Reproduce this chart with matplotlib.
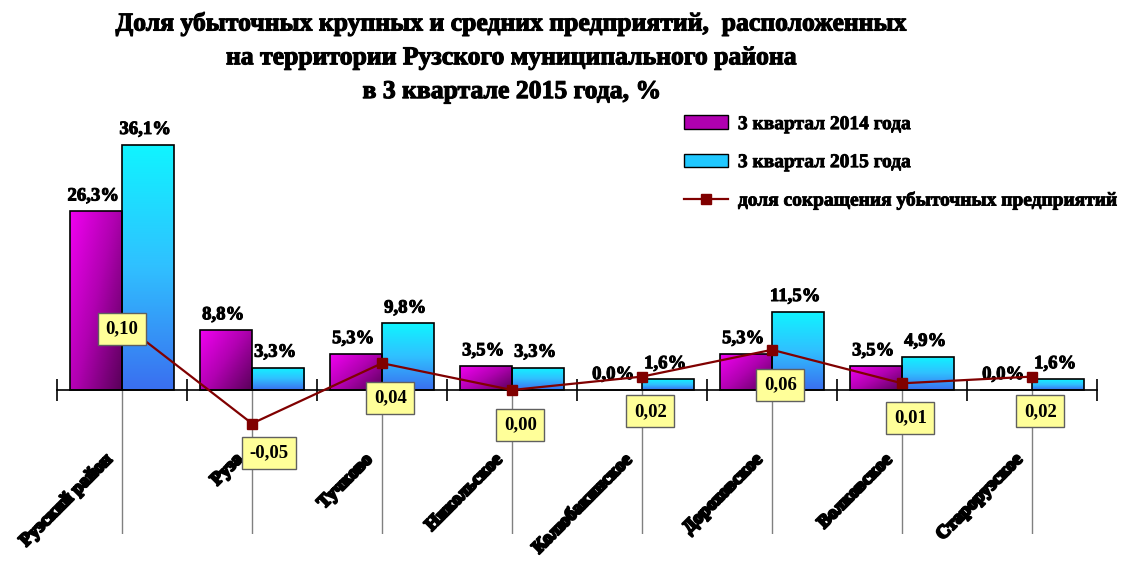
import numpy as np
import matplotlib
matplotlib.use("Agg")
from matplotlib import pyplot
from matplotlib import patheffects
from matplotlib.patches import Patch
from matplotlib.lines import Line2D
from matplotlib.colors import LinearSegmentedColormap

"""
Share of loss-making enterprises, Ruza district, Q3 2014 vs Q3 2015
"""

categories = ["Рузский район", "Руза", "Тучково", "Никольское",
              "Колюбакинское", "Дороховское", "Волковское", "Старорузское"]
share_2014 = [26.3, 8.8, 5.3, 3.5, 0.0, 5.3, 3.5, 0.0]
share_2015 = [36.1, 3.3, 9.8, 3.3, 1.6, 11.5, 4.9, 1.6]
reduction = [0.10, -0.05, 0.04, 0.00, 0.02, 0.06, 0.01, 0.02]

title = ("Доля убыточных крупных и средних предприятий,  расположенных\n"
         "на территории Рузского муниципального района\n"
         "в 3 квартале 2015 года, %")
legend_labels = ["3 квартал 2014 года", "3 квартал 2015 года",
                 "доля сокращения убыточных предприятий"]

pyplot.rcParams['font.family'] = ['Liberation Serif', 'DejaVu Serif']

magenta_cmap = LinearSegmentedColormap.from_list(
    "mag", ["#f000f0", "#b000b0", "#5a005a"])
cyan_cmap = LinearSegmentedColormap.from_list(
    "cya", ["#10f4ff", "#30c0ff", "#3a70f0"])


def heavy(lw):
    return [patheffects.withStroke(linewidth=lw, foreground='black')]


def fill_gradient(ax, bars, cmap, diagonal):
    ny, nx = 60, 30
    yy, xx = np.mgrid[0:1:ny * 1j, 0:1:nx * 1j]
    if diagonal:
        grad = 0.55 * xx + 0.45 * yy
    else:
        grad = yy
    for bar in bars:
        x0, y0 = bar.get_x(), bar.get_y()
        w, h = bar.get_width(), bar.get_height()
        if h == 0:
            continue
        im = ax.imshow(grad, cmap=cmap, aspect='auto', origin='upper',
                       extent=(x0, x0 + w, y0, y0 + h), zorder=2,
                       interpolation='bilinear', vmin=0, vmax=1)
        im.set_clip_path(bar)


def fmt(v, digits):
    return ("%." + str(digits) + "f") % v


fig = pyplot.figure(figsize=(11.24, 5.61), dpi=100)
ax = fig.add_axes([57 / 1124, 27 / 561, 1040 / 1124, 424 / 561])
ax2 = ax.twinx()

x = np.arange(len(categories))
width = 0.4
bars_a = ax.bar(x - width / 2, share_2014, width, facecolor='none',
                edgecolor='black', linewidth=1.2, zorder=3)
bars_b = ax.bar(x + width / 2, share_2015, width, facecolor='none',
                edgecolor='black', linewidth=1.2, zorder=3)
fill_gradient(ax, bars_a, magenta_cmap, True)
fill_gradient(ax, bars_b, cyan_cmap, False)

ax.set_xlim(-0.5, len(categories) - 0.5)
ax.set_ylim(-21.2, 41.24)
ax2.set_ylim(-0.2149, 0.4179)

# drop lines at category centres
ax.vlines(x, -21.2, 0, color='#808080', linewidth=1, zorder=1)

for spine in ['top', 'right', 'left']:
    ax.spines[spine].set_visible(False)
    ax2.spines[spine].set_visible(False)
ax2.spines['bottom'].set_visible(False)
ax.spines['bottom'].set_position(('data', 0))
ax.spines['bottom'].set_linewidth(1.2)
ax.spines['bottom'].set_zorder(4)
ax.set_yticks([])
ax2.set_yticks([])
ax.set_xticks(x)
ax.set_xticklabels([])
ax.tick_params(axis='x', which='major', length=0)
ax.set_xticks(np.arange(len(categories) + 1) - 0.5, minor=True)
ax.tick_params(axis='x', which='minor', direction='inout', length=16,
               width=1.2)

for i, name in enumerate(categories):
    ax.text(i - 0.09, -9.8, name, rotation=45, rotation_mode='anchor',
            ha='right', va='center', fontsize=13.3, fontweight='bold',
            path_effects=heavy(1.6))

for bars, vals in [(bars_a, share_2014), (bars_b, share_2015)]:
    for bar, v in zip(bars, vals):
        ax.annotate(fmt(v, 1).replace('.', ',') + "%",
                    (bar.get_x() + bar.get_width() / 2, v),
                    xytext=(-2, 5), textcoords='offset points',
                    ha='center', va='bottom', fontsize=13.5,
                    fontweight='bold', zorder=6, path_effects=heavy(0.7))

line_color = '#800000'
ax2.plot(x, reduction, color=line_color, linewidth=1.6, marker='s',
         markersize=7, zorder=5)
for i, v in enumerate(reduction):
    if i == 0:
        off = (0, -4)
    elif v < 0:
        off = (12, -21)
    else:
        off = (6, -25)
    ax2.annotate(fmt(v, 2).replace('.', ','), (i, v), xytext=off,
                 textcoords='offset points', ha='center', va='center',
                 fontsize=13.5, fontweight='bold', zorder=7,
                 bbox=dict(boxstyle='square,pad=0.4', facecolor='#ffff99',
                           edgecolor='#606060', linewidth=1))

fig.text(0.456, 1 - 12 / 561, title, ha='center', va='top', fontsize=18.5,
         fontweight='bold', linespacing=1.6, path_effects=heavy(0.8))

handles = [Patch(facecolor='#b000b0', edgecolor='black'),
           Patch(facecolor='#20c8ff', edgecolor='black'),
           Line2D([], [], color=line_color, linewidth=1.6, marker='s',
                  markersize=7)]
leg = fig.legend(handles, legend_labels, loc='upper left',
                 bbox_to_anchor=(666 / 1124, 1 - 98 / 561), frameon=False,
                 prop={'size': 14, 'weight': 'bold'}, labelspacing=1.05,
                 handlelength=2.3, handletextpad=0.5)
for t in leg.get_texts():
    t.set_path_effects(heavy(0.6))

pyplot.savefig("out.png", dpi=100)
